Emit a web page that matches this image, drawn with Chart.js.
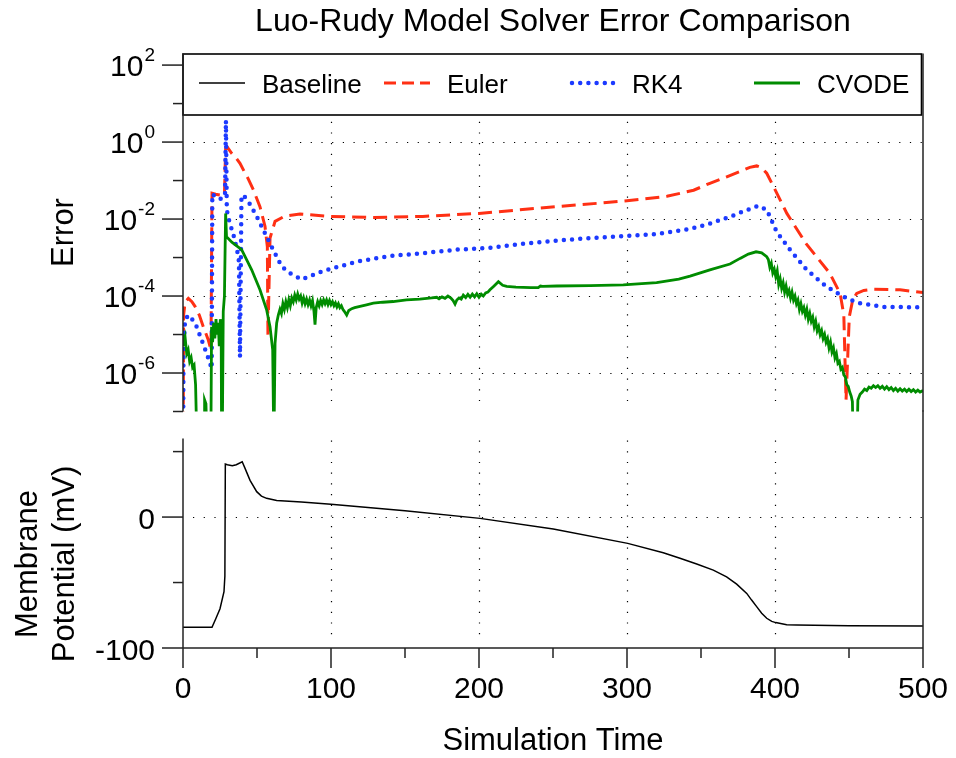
<!DOCTYPE html>
<html>
<head>
<meta charset="utf-8">
<script src="https://cdn.jsdelivr.net/npm/chart.js@4/dist/chart.umd.min.js"></script>
<style>
html,body{margin:0;padding:0;background:#fff;}
#wrap{position:relative;width:956px;height:758px;overflow:hidden;background:#fff;}
#wrap canvas{position:absolute;left:0;top:0;}
</style>
</head>
<body>
<div id="wrap">
<canvas id="errChart" width="956" height="758"></canvas>
<canvas id="vmChart" width="956" height="758"></canvas>
</div>
<script>
// ---------------- data ----------------
const chartTitle = 'Luo-Rudy Model Solver Error Comparison';
const seriesNames = ['Baseline', 'Euler', 'RK4', 'CVODE'];

const eulerTime  = [0, 0.4, 1.5, 3.6, 6, 8.1, 11, 13.7, 17.1, 18.9, 19.6, 22, 25, 28, 28.8, 29.5, 33, 36, 38.5, 40.8, 44, 47.5, 52, 55.4, 57, 57.4, 58.8, 62.2, 68.9, 79, 99, 129, 162, 200, 252, 282, 300, 327, 345, 356, 367, 379, 383, 387.6, 391, 394.4, 399, 408, 421, 437, 444, 446.5, 448, 450.2, 452.5, 455.2, 460, 466.4, 484.5, 500];
const eulerError = [1e-9, 3.2e-5, 7.1e-5, 8.7e-5, 7.1e-5, 5.4e-5, 3.2e-5, 1.6e-5, 7.2e-6, 4.0e-6, 4.7e-2, 4.4e-2, 4.2e-2, 4.2e-2, 0.69, 0.78, 0.5, 0.38, 0.28, 0.19, 0.112, 5.8e-2, 2.1e-2, 6.5e-3, 1.9e-3, 9e-6, 3.2e-3, 8.7e-3, 1.2e-2, 1.35e-2, 1.17e-2, 1.1e-2, 1.17e-2, 1.4e-2, 2.1e-2, 2.6e-2, 3.0e-2, 3.9e-2, 5.6e-2, 8.5e-2, 0.123, 0.19, 0.22, 0.24, 0.215, 0.155, 7.0e-2, 1.4e-2, 2.3e-3, 3.9e-4, 1.17e-4, 3.2e-5, 2e-7, 2.9e-5, 7.9e-5, 1.17e-4, 1.4e-4, 1.5e-4, 1.45e-4, 1.23e-4];

const rk4Time  = [0, 0.3, 1.4, 3.6, 5.9, 9.2, 12.6, 16, 18.2, 19.4, 19.8, 22, 25, 27.5, 28.4, 29.0, 29.6, 31.5, 34, 36.5, 37.8, 38.5, 39.5, 40.8, 44.1, 49.8, 54.3, 59.9, 66.7, 72.3, 80.2, 94.8, 117.3, 139.9, 162.4, 184.9, 207.4, 230, 252.5, 275, 297.5, 320, 342.6, 356, 369.6, 380, 388.7, 394.4, 401.1, 410.1, 421.4, 434.9, 448.4, 457.4, 473.2, 500];
const rk4Error = [1e-9, 3.2e-6, 2.4e-5, 3.2e-5, 2.6e-5, 1.6e-5, 7.2e-6, 3.2e-6, 1.8e-6, 1.3e-6, 4.5e-2, 3.8e-2, 3.3e-2, 3.8e-2, 4e-2, 3.6, 1.7e-2, 8e-3, 4e-3, 1.6e-3, 7.9e-4, 2.6e-6, 3.9e-2, 4.2e-2, 2.9e-2, 1.17e-2, 5.2e-3, 1.9e-3, 5.8e-4, 3.9e-4, 2.7e-4, 4.5e-4, 7.8e-4, 1.1e-3, 1.3e-3, 1.6e-3, 1.8e-3, 2.3e-3, 2.75e-3, 3.2e-3, 3.6e-3, 4.1e-3, 5.5e-3, 7.6e-3, 1.15e-2, 1.66e-2, 2.2e-2, 1.74e-2, 4.7e-3, 1.6e-3, 4.8e-4, 1.74e-4, 8.7e-5, 6.5e-5, 5.2e-5, 5.1e-5];

const cvodeTime  = [0, 0.5, 1.5, 2.5, 3.5, 4.5, 5.5, 6.5, 7.5, 8.5, 9.5, 14.2, 14.6, 15.5, 16.4, 18.8, 19.3, 20, 20.7, 21.5, 22.3, 23, 23.8, 24.5, 25.2, 25.8, 26.1, 26.5, 27.2, 28, 28.8, 29.4, 33, 39.6, 46.4, 52, 56.5, 58.8, 60.6, 61.4,
  62.2, 63.3, 64.4, 65.5, 66.5, 67.5, 68.5, 69.5, 70.5, 71.5, 72.5, 73.5, 74.5, 75.5, 76.5, 77.5, 78.5, 79.5, 80.5, 81.5, 82.5, 83.5, 84.5, 85.5, 86.5, 87.5, 88.5, 89.2, 90, 91, 92, 93, 94, 95, 96, 97, 98, 99, 100, 101, 102, 103, 104, 105, 106, 107, 108, 109, 110.6,
  112, 114, 116, 119.6, 124, 128.6, 135, 142, 151, 160, 168, 171.4,
  173, 175, 177, 179, 181, 182.5, 183.8, 185, 186.5, 188, 189.4, 191, 192.5, 194, 195.5, 197, 198.5, 200, 201.5, 202.9, 204.5, 206, 207.4, 210, 213.1, 216, 218.7, 225, 235, 240, 241.5, 243, 252.5, 275, 297.5, 320, 335, 342.6, 356, 369.6, 376.4, 382, 387.2, 391, 394.4,
  395.5, 396.5, 397.5, 398.5, 399.5, 400.5, 401.5, 402.5, 403.5, 404.5, 405.5, 406.5, 407.5, 408.5, 409.5, 410.5, 411.5, 412.5, 413.5, 414.5, 415.5, 416.5, 417.5, 418.5, 419.5, 420.5, 421.5, 422.5, 423.5, 424.5, 425.5, 426.5, 427.5, 428.5, 429.5, 430.5, 431.5, 432.5, 433.5, 434.5, 435.5, 436.5, 437.5, 438.5, 439.5, 440.5, 441.5, 442.5, 443.5, 444.5, 445.5, 446.5, 447.5, 448.5, 449.5, 450.5, 451.5, 452.3, 452.9,
  455.3, 456, 457.5, 459, 460.5, 462, 463.5, 465, 466.5, 468, 469.5, 471, 472.5, 474, 475.5, 477, 478.5, 480, 481.5, 483, 484.5, 486, 487.5, 489, 490.5, 492, 493.5, 495, 496.5, 498, 500];
const cvodeError = [1e-5, 5e-6, 7.9e-6, 3.2e-6, 4e-6, 2e-6, 2.5e-6, 1.4e-6, 1.6e-6, 5e-7, 1e-8, 1e-8, 2e-7, 1.6e-7, 1e-8, 1e-8, 1.6e-5, 6.3e-6, 2e-5, 7.9e-6, 2.5e-5, 1e-5, 2e-5, 5e-6, 2.5e-5, 1e-5, 1e-8, 1e-8, 4e-5, 1e-4, 1.4e-2, 3.5e-3, 2.5e-3, 1.6e-3, 4.8e-4, 1.45e-4, 4.4e-5, 1.6e-5, 4e-6, 1e-8,
  5.9e-6, 2e-5, 3.2e-5, 4.5e-5, 3.5e-5, 6.3e-5, 4.5e-5, 7.1e-5, 5e-5, 7.9e-5, 5.6e-5, 8.9e-5, 7.1e-5, 1.05e-4, 7.9e-5, 1.12e-4, 8.3e-5, 1e-4, 6.6e-5, 8.9e-5, 6.3e-5, 8.3e-5, 6e-5, 7.9e-5, 5.6e-5, 7.6e-5, 4e-5, 1.8e-5, 5e-5, 7.1e-5, 5.6e-5, 7.6e-5, 6e-5, 7.9e-5, 6.3e-5, 7.9e-5, 6e-5, 7.6e-5, 6e-5, 7.1e-5, 5.6e-5, 6.6e-5, 5.2e-5, 6.3e-5, 5e-5, 5.6e-5, 4.5e-5, 4e-5, 3.2e-5,
  4.2e-5, 4.7e-5, 5e-5, 5.4e-5, 5.9e-5, 6.5e-5, 6.9e-5, 7.2e-5, 7.9e-5, 8.3e-5, 8.9e-5, 9.3e-5,
  8.5e-5, 9.5e-5, 8.7e-5, 1e-4, 8.9e-5, 7.6e-5, 6.2e-5, 7.9e-5, 8.9e-5, 8.3e-5, 1.05e-4, 9.1e-5, 1.1e-4, 9.3e-5, 1.12e-4, 9.5e-5, 1.15e-4, 9.3e-5, 1.12e-4, 1e-4, 1.2e-4, 1.26e-4, 1.45e-4, 1.8e-4, 2.35e-4, 1.9e-4, 1.78e-4, 1.7e-4, 1.66e-4, 1.66e-4, 1.82e-4, 1.78e-4, 1.82e-4, 1.86e-4, 1.95e-4, 2.24e-4, 2.75e-4, 3.3e-4, 4.8e-4, 6.8e-4, 9.5e-4, 1.23e-3, 1.41e-3, 1.32e-3, 1.05e-3,
  8.9e-4, 5.6e-4, 7.1e-4, 4.0e-4, 5.0e-4, 3.2e-4, 4.5e-4, 2.0e-4, 2.8e-4, 1.6e-4, 2.2e-4, 1.26e-4, 1.8e-4, 1.12e-4, 1.4e-4, 8.9e-5, 1.26e-4, 7.9e-5, 1e-4, 6.3e-5, 7.9e-5, 4.5e-5, 6.3e-5, 4.0e-5, 5.0e-5, 3.2e-5, 4.5e-5, 2.5e-5, 3.5e-5, 2.2e-5, 2.8e-5, 1.6e-5, 2.2e-5, 1.26e-5, 1.6e-5, 1e-5, 1.26e-5, 7.9e-6, 1e-5, 6.3e-6, 7.9e-6, 4.5e-6, 6.3e-6, 3.5e-6, 4.5e-6, 2.5e-6, 3.2e-6, 1.8e-6, 2e-6, 1.26e-6, 1.4e-6, 8.9e-7, 7.9e-7, 5e-7, 4.5e-7, 3.2e-7, 2.5e-7, 1.8e-7, 1e-8,
  1e-8, 2e-7, 2.8e-7, 3.2e-7, 3.8e-7, 3.5e-7, 4.3e-7, 4e-7, 4.7e-7, 4.2e-7, 4.7e-7, 4e-7, 4.5e-7, 3.8e-7, 4.4e-7, 3.7e-7, 4.2e-7, 3.5e-7, 4e-7, 3.4e-7, 3.9e-7, 3.4e-7, 3.8e-7, 3.3e-7, 3.8e-7, 3.3e-7, 3.7e-7, 3.2e-7, 3.6e-7, 3.2e-7, 3.5e-7];

const baselineTime    = [0, 19.6, 22, 25, 27.7, 28.3, 28.6, 30, 33.3, 36, 40, 42, 45.3, 49.8, 53, 56.5, 63.3, 80, 100, 150, 200.7, 250.2, 300.5, 324.5, 335.8, 347.1, 358.3, 367.3, 374.1, 380.9, 384.2, 387.6, 391, 394.4, 397.8, 400.5, 407.9, 414.6, 450, 500];
const baselinePotential = [-84.2, -84.2, -78, -70, -57, -45, 40.5, 40, 39.2, 40, 42.2, 37, 28, 19.4, 16, 14.3, 12.7, 11.5, 9.7, 4.8, -1.0, -9.2, -20.1, -27.2, -31.5, -35.9, -40.5, -45.6, -51.2, -58.3, -63.4, -68.4, -73.5, -77.3, -79.7, -80.6, -82.2, -82.4, -83, -83.2];

const timeTickLabels  = ['0', '100', '200', '300', '400', '500'];
const timeMinorTicks  = [50, 150, 250, 350, 450];
const errTickExponents = ['2', '0', '-2', '-4', '-6'];
const errMinorExponents = [1, -1, -3, -5, -7];
const vmTickLabels   = ['-100', '0'];
const vmMinorTicks   = [-50, 50];
const timeAxisTitle  = 'Simulation Time';
const errAxisTitle   = 'Error';
const vmAxisTitle    = ['Membrane', 'Potential (mV)'];

// ---------------- styling ----------------
const FONT = '"Liberation Sans", Arial, Helvetica, sans-serif';
const RED = 'rgb(255,48,20)';
const BLUE = 'rgb(28,58,255)';
const GREEN = 'rgb(0,140,0)';
const AXIS = '#222';

function pts(xs, ys) { return xs.map((x, i) => ({x: x, y: ys[i]})); }
function hline(ctx, x1, x2, y) { ctx.beginPath(); ctx.moveTo(x1, y); ctx.lineTo(x2, y); ctx.stroke(); }
function vline(ctx, x, y1, y2) { ctx.beginPath(); ctx.moveTo(x, y1); ctx.lineTo(x, y2); ctx.stroke(); }

const legendStyles = [
  {color: '#000', width: 1.5, dash: [], cap: 'butt'},
  {color: RED, width: 3, dash: [12, 6], cap: 'butt'},
  {color: BLUE, width: 4.5, dash: [0, 8.2], cap: 'round'},
  {color: GREEN, width: 2.8, dash: [], cap: 'butt'}
];

const errDecor = {
  id: 'errDecor',
  beforeDatasetsDraw(chart) {
    const {ctx, chartArea: a, scales: {x, y}} = chart;
    ctx.save();
    ctx.strokeStyle = '#000';
    ctx.lineWidth = 1.2;
    ctx.setLineDash([1.2, 9.5]);
    errTickExponents.forEach(e => {
      const py = Math.round(y.getPixelForValue(Math.pow(10, +e))) + 0.5;
      hline(ctx, a.left + 10, a.right, py);
    });
    timeTickLabels.slice(1, -1).forEach(t => {
      const px = Math.round(x.getPixelForValue(+t)) + 0.5;
      vline(ctx, px, a.top + 4, a.bottom - 2);
    });
    ctx.restore();
  },
  afterDatasetsDraw(chart) {
    const {ctx, chartArea: a, scales: {x, y}} = chart;
    ctx.save();
    const lt = a.top + 0.5, lb = 115, lr = a.right - 1.5;
    ctx.fillStyle = '#fff';
    ctx.fillRect(a.left, lt, lr - a.left, lb - lt);
    ctx.strokeStyle = '#000';
    ctx.lineWidth = 1.6;
    ctx.strokeRect(a.left, lt, lr - a.left, lb - lt);
    const ly = 83;
    seriesNames.forEach((name, i) => {
      const st = legendStyles[i];
      const x0 = 199 + i * 185;
      ctx.save();
      ctx.strokeStyle = st.color; ctx.lineWidth = st.width;
      ctx.setLineDash(st.dash); ctx.lineCap = st.cap;
      ctx.beginPath();
      if (st.cap === 'round') { ctx.moveTo(x0 + 3, ly); ctx.lineTo(x0 + 44, ly); }
      else { ctx.moveTo(x0, ly); ctx.lineTo(x0 + 46, ly); }
      ctx.stroke();
      ctx.restore();
      ctx.fillStyle = '#000';
      ctx.font = '26px ' + FONT;
      ctx.textAlign = 'left'; ctx.textBaseline = 'alphabetic';
      ctx.fillText(name, x0 + 63, 92.5);
    });
    ctx.strokeStyle = AXIS;
    ctx.lineWidth = 1.5;
    vline(ctx, a.left, a.top, a.bottom);
    vline(ctx, a.right, a.top, a.bottom);
    errTickExponents.forEach(e => {
      const py = y.getPixelForValue(Math.pow(10, +e));
      hline(ctx, a.left - 21, a.left, py);
    });
    errMinorExponents.forEach(e => {
      const py = y.getPixelForValue(Math.pow(10, e));
      hline(ctx, a.left - 10, a.left, py);
    });
    ctx.fillStyle = '#000';
    ctx.textAlign = 'right'; ctx.textBaseline = 'alphabetic';
    const right = a.left - 28;
    errTickExponents.forEach(e => {
      const py = y.getPixelForValue(Math.pow(10, +e));
      ctx.font = '19px ' + FONT;
      const ew = ctx.measureText(e).width;
      ctx.fillText(e, right, py - 4);
      ctx.font = '30px ' + FONT;
      ctx.fillText('10', right - ew - 1, py + 11);
    });
    ctx.save();
    ctx.translate(73, (a.top + a.bottom) / 2);
    ctx.rotate(-Math.PI / 2);
    ctx.font = '31px ' + FONT;
    ctx.textAlign = 'center'; ctx.textBaseline = 'alphabetic';
    ctx.fillText(errAxisTitle, 0, 0);
    ctx.restore();
    ctx.restore();
  }
};

const vmDecor = {
  id: 'vmDecor',
  beforeDatasetsDraw(chart) {
    const {ctx, chartArea: a, scales: {x, y}} = chart;
    ctx.save();
    ctx.strokeStyle = '#000';
    ctx.lineWidth = 1.2;
    ctx.setLineDash([1.2, 9.5]);
    const py = Math.round(y.getPixelForValue(0)) + 0.5;
    hline(ctx, a.left + 10, a.right, py);
    timeTickLabels.slice(1, -1).forEach(t => {
      const px = Math.round(x.getPixelForValue(+t)) + 0.5;
      vline(ctx, px, a.top + 2, a.bottom - 8);
    });
    ctx.restore();
  },
  afterDatasetsDraw(chart) {
    const {ctx, chartArea: a, scales: {x, y}} = chart;
    ctx.save();
    ctx.strokeStyle = AXIS;
    ctx.lineWidth = 1.5;
    vline(ctx, a.left, a.top, a.bottom);
    vline(ctx, a.right, a.top - 28, a.bottom);
    hline(ctx, a.left, a.right, a.bottom);
    vmTickLabels.forEach(v => {
      const py = y.getPixelForValue(+v);
      hline(ctx, a.left - 21, a.left, py);
    });
    vmMinorTicks.forEach(v => {
      const py = y.getPixelForValue(v);
      hline(ctx, a.left - 10, a.left, py);
    });
    timeTickLabels.forEach(t => {
      const px = x.getPixelForValue(+t);
      vline(ctx, px, a.bottom, a.bottom + 20);
    });
    timeMinorTicks.forEach(t => {
      const px = x.getPixelForValue(t);
      vline(ctx, px, a.bottom, a.bottom + 10);
    });
    ctx.fillStyle = '#000';
    ctx.font = '30px ' + FONT;
    ctx.textBaseline = 'alphabetic';
    ctx.textAlign = 'right';
    vmTickLabels.forEach(v => {
      const py = y.getPixelForValue(+v);
      ctx.fillText(v, a.left - 28, py + 12);
    });
    ctx.textAlign = 'center';
    timeTickLabels.forEach(t => {
      const px = x.getPixelForValue(+t);
      ctx.fillText(t, px, a.bottom + 50);
    });
    ctx.font = '31px ' + FONT;
    ctx.fillText(timeAxisTitle, (a.left + a.right) / 2, 750);
    ctx.save();
    ctx.translate(0, 564);
    ctx.rotate(-Math.PI / 2);
    ctx.textAlign = 'center';
    ctx.fillText(vmAxisTitle[0], 0, 36.5);
    ctx.fillText(vmAxisTitle[1], 0, 73.5);
    ctx.restore();
    ctx.restore();
  }
};

const errChart = new Chart(document.getElementById('errChart'), {
  type: 'line',
  data: {
    datasets: [
      {label: seriesNames[1], data: pts(eulerTime, eulerError), borderColor: RED, borderWidth: 3, borderDash: [14, 7], pointRadius: 0, tension: 0, fill: false, order: 3},
      {label: seriesNames[2], data: pts(rk4Time, rk4Error), borderColor: BLUE, borderWidth: 4.5, borderDash: [0, 8.2], borderCapStyle: 'round', pointRadius: 0, tension: 0, fill: false, order: 2},
      {label: seriesNames[3], data: pts(cvodeTime, cvodeError), borderColor: GREEN, borderWidth: 2.8, pointRadius: 0, tension: 0, fill: false, order: 1}
    ]
  },
  options: {
    responsive: false, animation: false, devicePixelRatio: 1,
    layout: {padding: {left: 183, right: 33, top: 0, bottom: 346.5}},
    scales: {
      x: {type: 'linear', min: 0, max: 500, display: false},
      y: {type: 'logarithmic', min: 1e-7, max: 200, display: false}
    },
    plugins: {
      legend: {display: false},
      tooltip: {enabled: false},
      title: {
        display: true, text: chartTitle, color: '#000', fullSize: false,
        font: {family: FONT, size: 32, weight: 'normal'},
        padding: {top: 3, bottom: 12.1}
      }
    }
  },
  plugins: [errDecor]
});

const vmChart = new Chart(document.getElementById('vmChart'), {
  type: 'line',
  data: {
    datasets: [
      {label: seriesNames[0], data: pts(baselineTime, baselinePotential), borderColor: '#000', borderWidth: 1.5, pointRadius: 0, tension: 0, fill: false}
    ]
  },
  options: {
    responsive: false, animation: false, devicePixelRatio: 1,
    layout: {padding: {left: 183, right: 33, top: 438.5, bottom: 110}},
    scales: {
      x: {type: 'linear', min: 0, max: 500, display: false},
      y: {type: 'linear', min: -100, max: 60, display: false}
    },
    plugins: {legend: {display: false}, tooltip: {enabled: false}, title: {display: false}}
  },
  plugins: [vmDecor]
});
</script>
</body>
</html>
